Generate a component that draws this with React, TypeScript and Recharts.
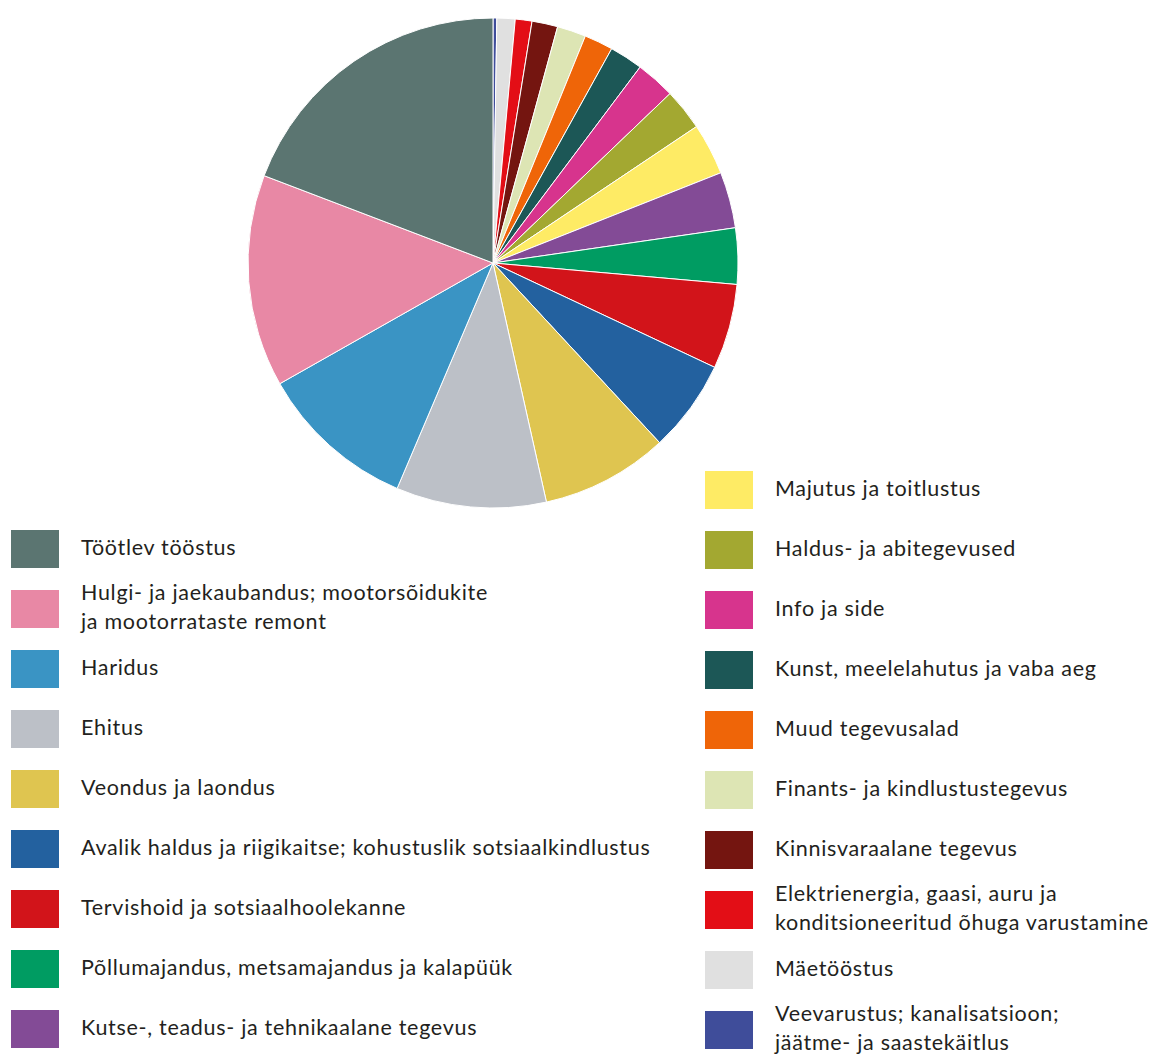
import React from "react";
import { PieChart, Pie, Cell } from "recharts";

// clockwise from 12 o'clock
const sectors = [
  "Veevarustus; kanalisatsioon;\njäätme- ja saastekäitlus",
  "Mäetööstus",
  "Elektrienergia, gaasi, auru ja\nkonditsioneeritud õhuga varustamine",
  "Kinnisvaraalane tegevus",
  "Finants- ja kindlustustegevus",
  "Muud tegevusalad",
  "Kunst, meelelahutus ja vaba aeg",
  "Info ja side",
  "Haldus- ja abitegevused",
  "Majutus ja toitlustus",
  "Kutse-, teadus- ja tehnikaalane tegevus",
  "Põllumajandus, metsamajandus ja kalapüük",
  "Tervishoid ja sotsiaalhoolekanne",
  "Avalik haldus ja riigikaitse; kohustuslik sotsiaalkindlustus",
  "Veondus ja laondus",
  "Ehitus",
  "Haridus",
  "Hulgi- ja jaekaubandus; mootorsõidukite\nja mootorrataste remont",
  "Töötlev tööstus",
];

const shares = [0.25, 1.2, 1.1, 1.7, 1.9, 1.9, 2.2, 2.6, 2.75, 3.4, 3.7, 3.7, 5.6, 6.1, 8.4, 9.9, 10.4, 14.0, 19.2];

const colors = [
  "#3f4d9a", "#e0e0e0", "#e30e16", "#741510", "#dde5b4", "#ef6508", "#1c5756",
  "#d7348d", "#a3a831", "#feeb65", "#834b96", "#009c62", "#d2141a", "#23619f",
  "#dfc550", "#bcc0c7", "#3a94c4", "#e888a5", "#5b7571",
];

const data = sectors.map((name, i) => ({ name, value: shares[i], color: colors[i] }));

// legend runs largest first: 9 in the left column, the rest on the right
const legendItems = [...data].reverse();
const leftItems = legendItems.slice(0, 9);
const rightItems = legendItems.slice(9);

function LegendColumn({ items, left, top }: { items: typeof data; left: number; top: number }) {
  return (
    <div style={{ position: "absolute", left, top }}>
      {items.map((d) => (
        <div key={d.name} style={{ display: "flex", alignItems: "center", height: 60 }}>
          <div style={{ width: 48, height: 38, background: d.color, flexShrink: 0 }} />
          <div
            style={{
              marginLeft: 22,
              position: "relative",
              top: -2,
              whiteSpace: "pre-line",
              lineHeight: "29px",
              fontSize: 21.5,
              color: "#231f20",
              letterSpacing: 0.7,
            }}
          >
            {d.name}
          </div>
        </div>
      ))}
    </div>
  );
}

export default function App() {
  return (
    <div style={{ position: "relative", width: 1161, height: 1055, background: "#fff", fontFamily: "Lato, sans-serif" }}>
      <style>{`body{margin:0}`}</style>
      <PieChart width={1161} height={1055} margin={{ top: 0, right: 0, bottom: 0, left: 0 }}>
        <Pie
          data={data}
          dataKey="value"
          nameKey="name"
          cx={493}
          cy={263}
          outerRadius={245}
          startAngle={90}
          endAngle={-270}
          stroke="#ffffff"
          strokeWidth={1}
          isAnimationActive={false}
        >
          {data.map((d) => (
            <Cell key={d.name} fill={d.color} />
          ))}
        </Pie>
      </PieChart>
      <LegendColumn items={leftItems} left={11} top={519} />
      <LegendColumn items={rightItems} left={705} top={460} />
    </div>
  );
}
